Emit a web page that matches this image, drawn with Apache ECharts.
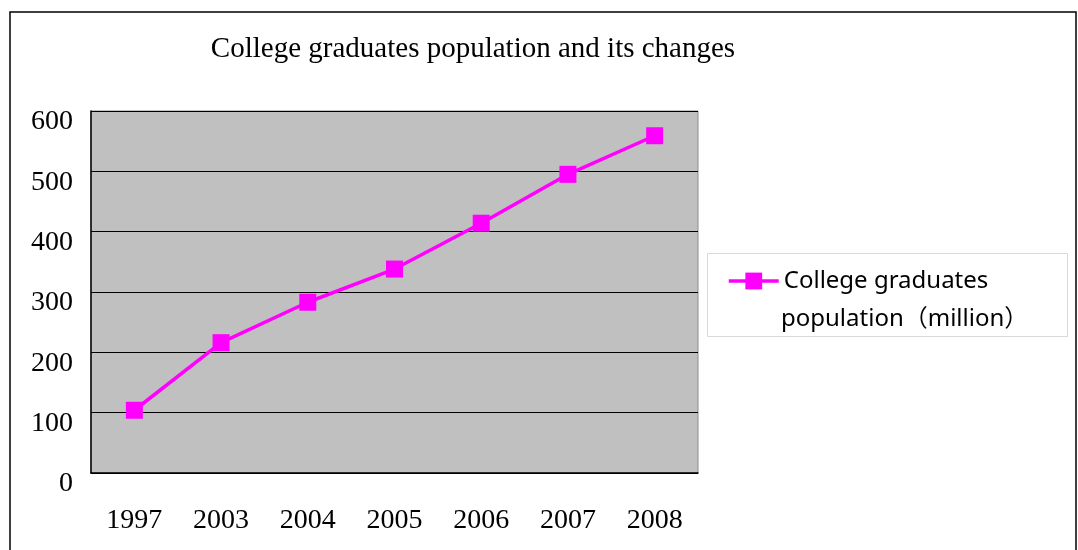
<!DOCTYPE html>
<html>
<head>
<meta charset="utf-8">
<script src="https://cdn.jsdelivr.net/npm/echarts@6/dist/echarts.min.js"></script>
<style>
  html, body { margin: 0; padding: 0; background: #fff; }
  #main { width: 1078px; height: 550px; }
</style>
</head>
<body>
<div id="main"></div>
<script>
var years = ['1997', '2003', '2004', '2005', '2006', '2007', '2008'];
var graduates = [104, 216, 283, 338, 414, 495, 559];
var seriesName = 'College graduates population（million）';
var legendLines = ['College graduates', 'population（million）'];

var myChart = echarts.init(document.getElementById('main'));
var serif = '"Liberation Serif", "Times New Roman", serif';
var sans = '"Noto Sans", "Noto Sans CJK SC", sans-serif';

var option = {
    animation: false,
    backgroundColor: '#fff',
    title: {
        text: 'College graduates population and its changes',
        left: 468,
        textAlign: 'center',
        top: 30,
        textStyle: {
            fontFamily: serif,
            fontWeight: 'normal',
            fontSize: 29,
            color: '#000'
        }
    },
    graphic: [
        { // outer frame
            type: 'rect',
            silent: true,
            shape: { x: 10, y: 12, width: 1066, height: 560 },
            style: { fill: 'none', stroke: '#000', lineWidth: 1.5 }
        },
        { // legend frame
            type: 'rect',
            silent: true,
            shape: { x: 707.5, y: 253.5, width: 360, height: 83 },
            style: { fill: 'none', stroke: '#d9d9d9', lineWidth: 1 }
        },
        { // second line of the legend label
            type: 'text',
            silent: true,
            style: {
                text: legendLines[1],
                x: 781,
                y: 319,
                verticalAlign: 'middle',
                font: '24px ' + sans,
                fill: '#000'
            }
        }
    ],
    legend: {
        data: [seriesName],
        left: 727,
        top: 269,
        padding: 0,
        itemWidth: 50,
        itemHeight: 21,
        itemGap: 0,
        lineStyle: { width: 3.5 },
        formatter: function () {
            return legendLines[0];
        },
        textStyle: {
            fontFamily: sans,
            fontSize: 24,
            lineHeight: 21,
            color: '#000'
        }
    },
    grid: {
        left: 91,
        top: 111,
        right: 380,
        bottom: 77,
        show: true,
        backgroundColor: '#c0c0c0',
        borderColor: '#8c8c8c',
        borderWidth: 1
    },
    xAxis: {
        type: 'category',
        data: years,
        boundaryGap: true,
        axisLine: { lineStyle: { color: '#000', width: 1.5 } },
        axisTick: { inside: true, length: 9, lineStyle: { color: '#000' } },
        axisLabel: {
            margin: 34,
            fontFamily: serif,
            fontSize: 28,
            color: '#000'
        }
    },
    yAxis: {
        type: 'value',
        min: 0,
        max: 600,
        interval: 100,
        axisLine: { show: true, lineStyle: { color: '#000', width: 1.5 } },
        axisTick: { show: true, inside: true, length: 10, lineStyle: { color: '#000' } },
        splitLine: { lineStyle: { color: '#000', width: 1.2 } },
        axisLabel: {
            margin: 18,
            formatter: '{v|{value}}',
            rich: {
                v: {
                    padding: [22, 0, 0, 0],
                    fontFamily: serif,
                    fontSize: 28,
                    color: '#000'
                }
            }
        }
    },
    series: [{
        name: seriesName,
        type: 'line',
        data: graduates,
        symbol: 'rect',
        symbolSize: 17,
        lineStyle: { color: '#ff00ff', width: 3.5 },
        itemStyle: { color: '#ff00ff' }
    }]
};
myChart.setOption(option);
</script>
</body>
</html>
